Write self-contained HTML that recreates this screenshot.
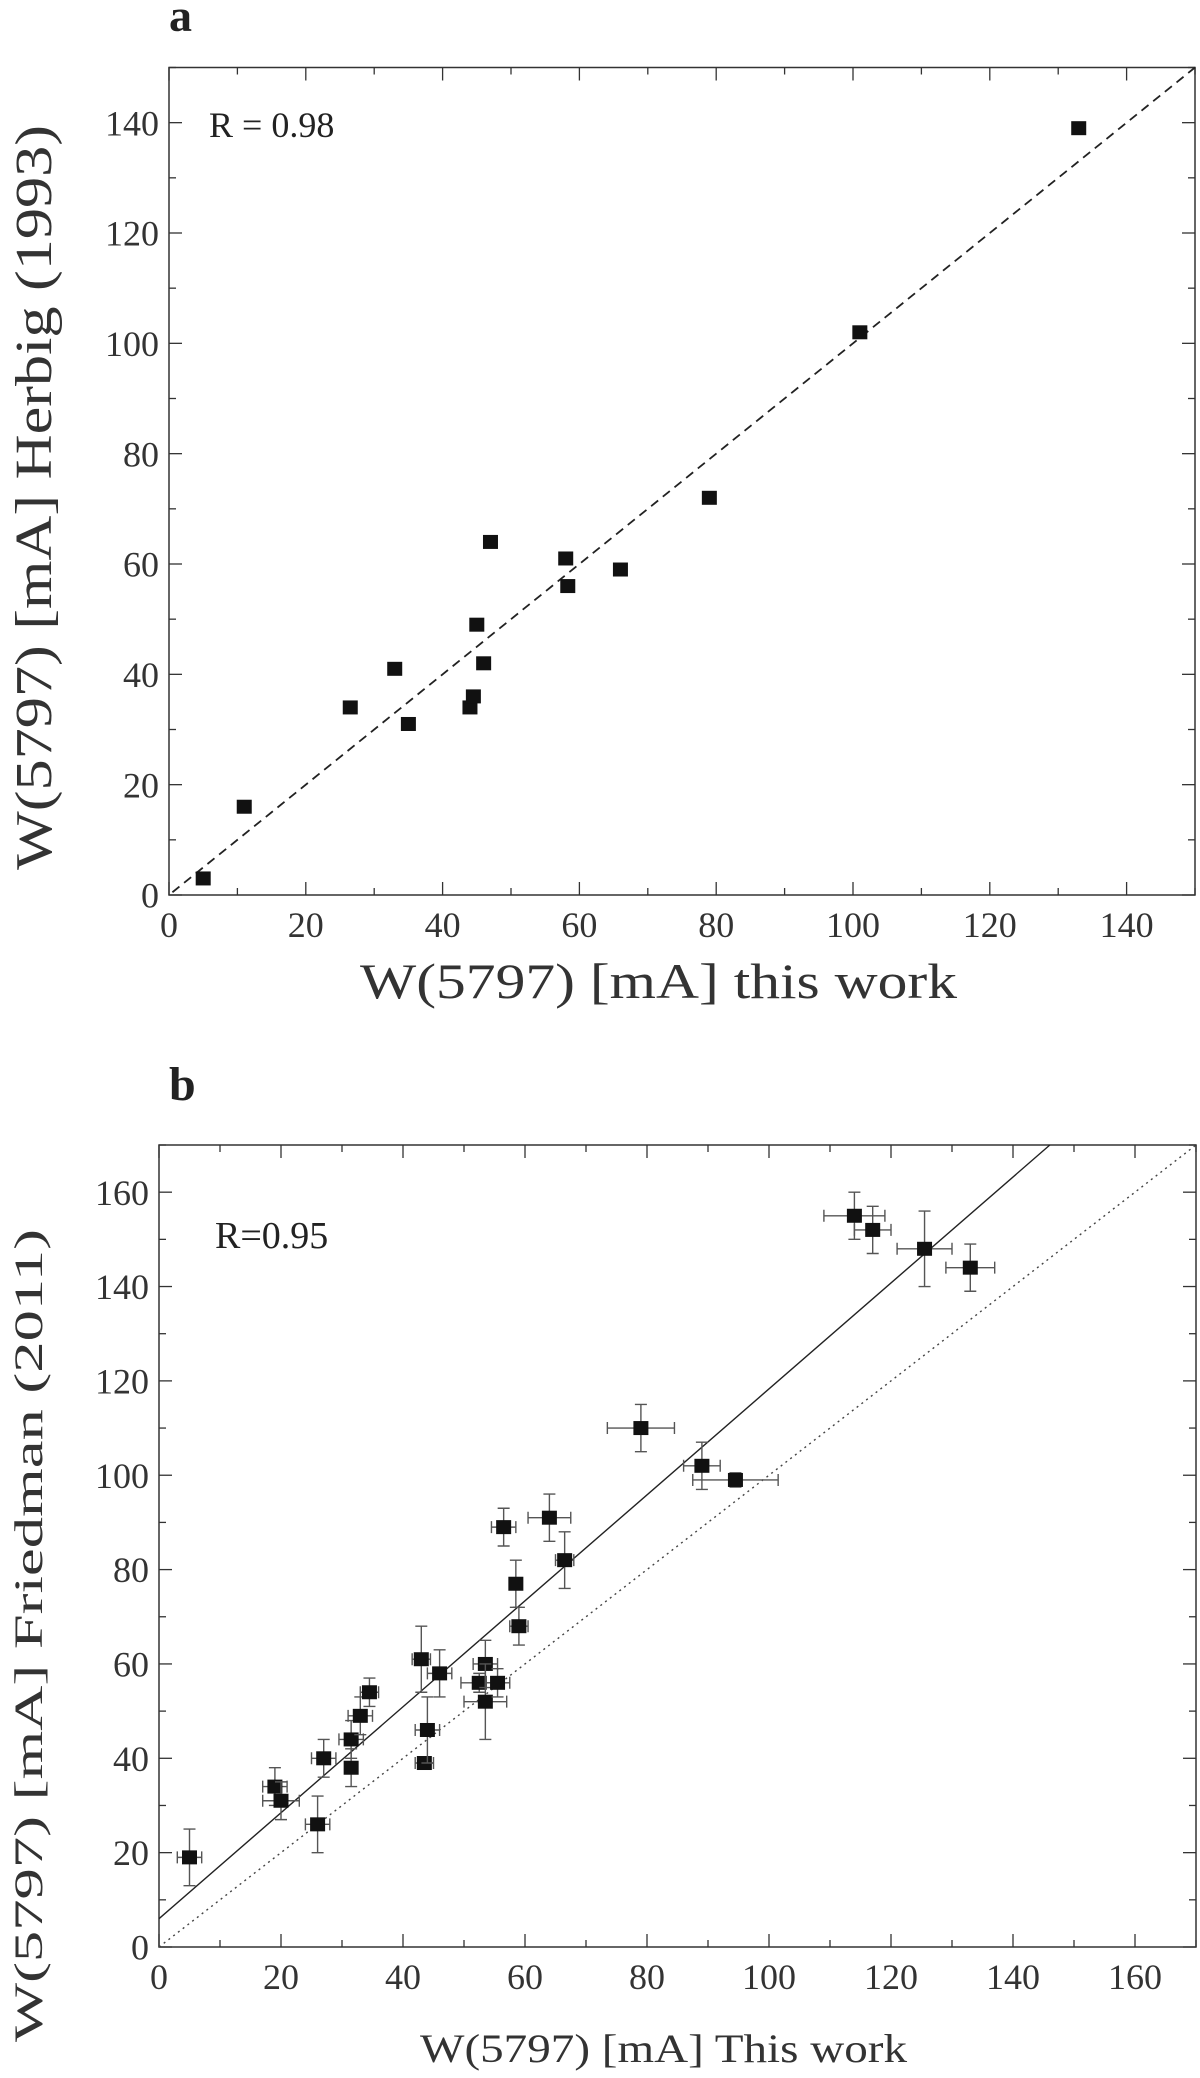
<!DOCTYPE html>
<html><head><meta charset="utf-8"><style>
html,body{margin:0;padding:0;background:#fff;}
svg{display:block;font-family:"Liberation Serif",serif;}
</style></head><body>
<svg id="chart" width="1200" height="2078" viewBox="0 0 1200 2078" xmlns="http://www.w3.org/2000/svg">
<text x="169" y="31" font-size="46" font-weight="bold" fill="#222">a</text>
<text x="169" y="1100" font-size="48" font-weight="bold" fill="#222">b</text>
<g id="pa"></g>
<g id="pb"></g>
</svg>
<script>
const aX=[5,11,26.5,33,35,44,44.5,45,46,47,58,58.3,66,79,101,133];
const aY=[3,16,34,41,31,34,36,49,42,64,61,56,59,72,102,139];
const aTicks=[0,20,40,60,80,100,120,140];
const bX=[5,19,20,26,27,31.5,31.5,33,34.5,43,43.5,44,46,52.5,53.5,53.5,55.5,56.5,58.5,59,64,66.5,79,89,94.5,114,117,125.5,133];
const bY=[19,34,31,26,40,44,38,49,54,61,39,46,58,56,60,52,56,89,77,68,91,82,110,102,99,155,152,148,144];
const bXErr=[2,2,3,2,2,2,1,2,1.5,1.5,1.5,2,2,3,2,3.5,2,2,1,1.5,3.5,1.5,5.5,3,7,5,3,4.5,4];
const bYErr=[6,4,4,6,4,4,4,4,3,7,1,7,5,2,5,8,3,4,5,4,5,6,5,5,1.5,5,5,8,5];
const bTicks=[0,20,40,60,80,100,120,140,160];
const bFit=[6,1.123];

const NS="http://www.w3.org/2000/svg";
function mk(parent,tag,attrs){const e=document.createElementNS(NS,tag);for(const k in attrs)e.setAttribute(k,attrs[k]);parent.appendChild(e);return e;}

function axes(g,L,R,T,B,max,ticks,minorStep,fs){
  const sx=v=>L+(R-L)*v/max, sy=v=>B-(B-T)*v/max;
  const box=mk(g,'rect',{x:L,y:T,width:R-L,height:B-T,fill:'none',stroke:'#333','stroke-width':1.5});
  
  
  for(let v=0;v<=max+1e-9;v+=minorStep){
    const major=ticks.includes(v);const len=major?13:7;
    mk(g,'line',{x1:sx(v),x2:sx(v),y1:B,y2:B-len,stroke:'#333','stroke-width':1.3});
    mk(g,'line',{x1:sx(v),x2:sx(v),y1:T,y2:T+len,stroke:'#333','stroke-width':1.3});
    mk(g,'line',{x1:L,x2:L+len,y1:sy(v),y2:sy(v),stroke:'#333','stroke-width':1.3});
    mk(g,'line',{x1:R,x2:R-len,y1:sy(v),y2:sy(v),stroke:'#333','stroke-width':1.3});
  }
  ticks.forEach(v=>{
    const t=mk(g,'text',{x:sx(v),y:B+fs+6,'font-size':fs,'text-anchor':'middle',fill:'#333'});t.textContent=v;
    
    
    const u=mk(g,'text',{x:L-10,y:sy(v)+fs*0.35,'font-size':fs,'text-anchor':'end',fill:'#333'});u.textContent=v;
    
    
  });
  return [sx,sy];
}
// Panel a
(function(){
  const g=document.getElementById('pa');
  const [sx,sy]=axes(g,169,1195,67.5,895,150,aTicks,10,36);
  const dl=mk(g,'line',{x1:sx(0.5),y1:sy(0.5),x2:sx(150),y2:sy(150),stroke:'#222','stroke-width':1.8,'stroke-dasharray':'9,6'});
  
  
  aX.forEach((x,i)=>{
    const r=mk(g,'rect',{x:sx(x)-7.5,y:sy(aY[i])-7,width:15,height:14,fill:'#111'});
    
    
  });
  const rt=mk(g,'text',{x:209,y:137,'font-size':36,fill:'#222'});rt.textContent='R = 0.98';
  
  
  const xt=mk(g,'text',{x:360,y:998,'font-size':50,fill:'#333',textLength:597,lengthAdjust:'spacingAndGlyphs'});xt.textContent='W(5797) [mA] this work';
  
  
  const yt=mk(g,'text',{x:0,y:0,'font-size':52,fill:'#333',textLength:745,lengthAdjust:'spacingAndGlyphs',transform:'translate(51,870) rotate(-90)'});yt.textContent='W(5797) [mA] Herbig (1993)';
  
  
})();
// Panel b
(function(){
  const g=document.getElementById('pb');
  const [sx,sy]=axes(g,159,1196,1145,1947,170,bTicks,10,36);
  const xEnd=(170-bFit[0])/bFit[1];
  const fl=mk(g,'line',{x1:sx(0),y1:sy(bFit[0]),x2:sx(xEnd),y2:sy(170),stroke:'#222','stroke-width':1.4});
  
  
  const il=mk(g,'line',{x1:sx(0),y1:sy(0),x2:sx(170),y2:sy(170),stroke:'#444','stroke-width':1.4,'stroke-dasharray':'2,4'});
  
  
  bX.forEach((x,i)=>{
    const y=bY[i],cx=sx(x),cy=sy(y);
    const x1=sx(x-bXErr[i]),x2=sx(x+bXErr[i]),y1=sy(y-bYErr[i]),y2=sy(y+bYErr[i]);
    const e=mk(g,'path',{d:`M${x1},${cy}H${x2}M${x1},${cy-6}V${cy+6}M${x2},${cy-6}V${cy+6}M${cx},${y1}V${y2}M${cx-6},${y1}H${cx+6}M${cx-6},${y2}H${cx+6}`,stroke:'#555','stroke-width':1.4,fill:'none'});
    
    
    const r=mk(g,'rect',{x:cx-7.5,y:cy-7,width:15,height:14,fill:'#111'});
    
    
  });
  const rt=mk(g,'text',{x:215,y:1248,'font-size':38,fill:'#222'});rt.textContent='R=0.95';
  
  
  const xt=mk(g,'text',{x:420,y:2062,'font-size':40,fill:'#333',textLength:487,lengthAdjust:'spacingAndGlyphs'});xt.textContent='W(5797) [mA] This work';
  
  
  const yt=mk(g,'text',{x:0,y:0,'font-size':40,fill:'#333',textLength:813,lengthAdjust:'spacingAndGlyphs',transform:'translate(42,2042) rotate(-90)'});yt.textContent='W(5797) [mA] Friedman (2011)';
  
  
})();
</script>
</body></html>
